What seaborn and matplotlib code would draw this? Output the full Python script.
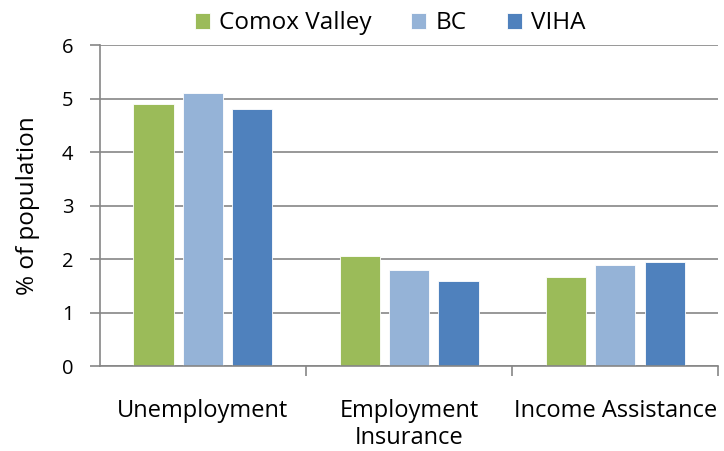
import pandas as pd
import matplotlib.pyplot as plt
import seaborn as sns

categories = ["Unemployment", "Employment\nInsurance", "Income Assistance"]
regions = ["Comox Valley", "BC", "VIHA"]
comox = [4.9, 2.06, 1.67]
bc = [5.1, 1.8, 1.9]
viha = [4.8, 1.59, 1.94]

df = pd.DataFrame({
    "Category": categories * 3,
    "Region": [r for r in regions for _ in categories],
    "Value": comox + bc + viha,
})

sns.set_style("white")
plt.rcParams["font.family"] = ["Open Sans", "DejaVu Sans"]
plt.rcParams["text.color"] = "black"
plt.rcParams["xtick.color"] = "black"
plt.rcParams["ytick.color"] = "black"
plt.rcParams["axes.labelcolor"] = "black"

fig = plt.figure(figsize=(7.24, 4.51), dpi=100)
ax = fig.add_axes([0.138, 0.188, 0.854, 0.712])

palette = ["#9BBB59", "#95B3D7", "#4F81BD"]
sns.barplot(data=df, x="Category", y="Value", hue="Region", palette=palette,
            width=0.72, gap=0.19, ax=ax, legend=True, saturation=1,
            edgecolor="white", linewidth=0.6)

ax.set_ylim(0, 6)
ax.set_xlim(-0.5, 2.5)
ax.set_yticks(range(0, 7))
ax.yaxis.grid(True, color="#868686", linewidth=1.2)
ax.set_axisbelow(True)
for s in ["top", "right"]:
    ax.spines[s].set_visible(False)
for s in ["left", "bottom"]:
    ax.spines[s].set_color("#868686")
    ax.spines[s].set_linewidth(1.2)

# axis labels and ticks
ax.set_xlabel("")
ax.set_ylabel("% of population", fontsize=17.5, labelpad=16)
ax.tick_params(axis="y", which="major", left=True, length=7, width=1.2,
               color="#868686", labelsize=14.5, pad=12)
ax.tick_params(axis="x", which="major", bottom=False, labelsize=17, pad=20)
ax.set_xticks([0.5, 1.5, 2.5], minor=True)
ax.tick_params(axis="x", which="minor", bottom=True, length=7, width=1.2,
               color="#868686")

ax.legend(loc="lower center", bbox_to_anchor=(0.469, 1.0), ncol=3, frameon=False,
          fontsize=17.5, handlelength=0.62, handleheight=0.62, handletextpad=0.37,
          columnspacing=1.65, borderaxespad=0.0)

fig.savefig("out.png", dpi=100)
